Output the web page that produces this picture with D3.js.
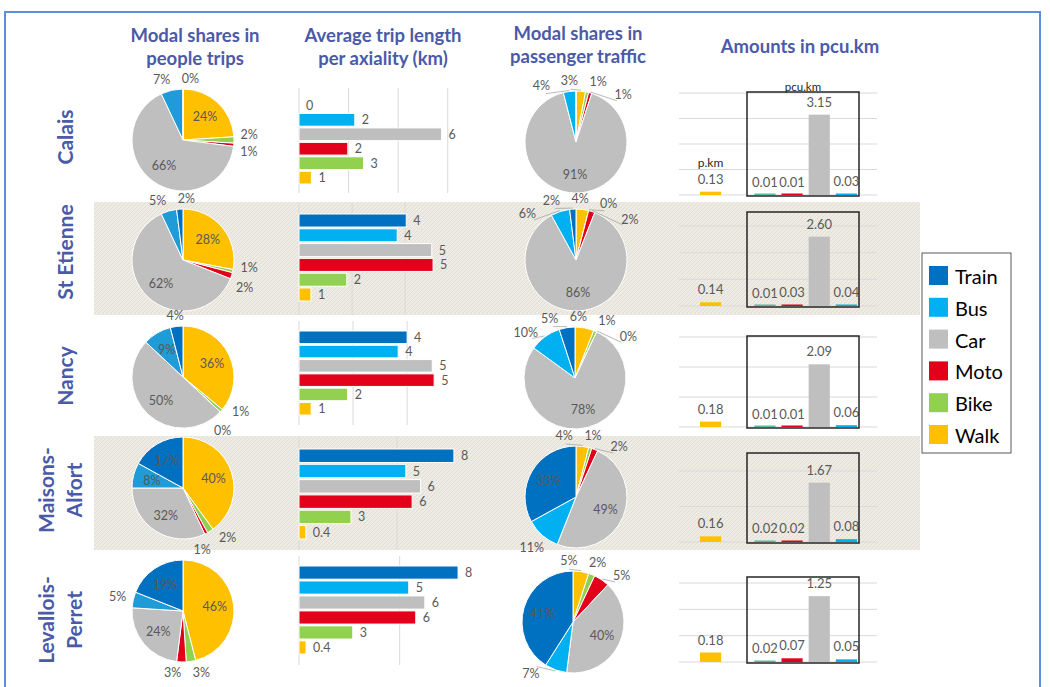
<!DOCTYPE html>
<html>
<head>
<meta charset="utf-8">
<script src="https://cdn.jsdelivr.net/npm/d3@7"></script>
<style>
  body { margin: 0; background: #fff; }
  svg { display: block; font-family: Lato, "Open Sans", sans-serif; }
</style>
</head>
<body>
<svg id="chart" width="1050" height="687"></svg>
<script>
// ---- data ----
const cityLines = [["Calais"], ["St Etienne"], ["Nancy"], ["Maisons-", "Alfort"], ["Levallois-", "Perret"]];
const modes = ["Train", "Bus", "Car", "Moto", "Bike", "Walk"];

// modal shares in people trips (%), in the order of modes
const peopleShare = [
  [0, 7, 66, 1, 2, 24],
  [2, 5, 62, 2, 1, 28],
  [4, 9, 50, 0, 1, 36],
  [17, 8, 32, 1, 2, 40],
  [19, 5, 24, 3, 3, 46]
];

// modal shares in passenger traffic (%)
const trafficShare = [
  [null, 4, 91, 1, 1, 3],
  [2, 6, 86, 2, 0, 4],
  [5, 10, 78, 0, 1, 6],
  [33, 11, 49, 2, 1, 4],
  [41, 7, 40, 5, 2, 5]
];

// average trip length per axiality (km)
const tripLength = [
  [0, 2.25, 5.75, 1.97, 2.6, 0.5],
  [4.04, 3.7, 5.0, 5.05, 1.8, 0.45],
  [4.0, 3.67, 4.93, 5.0, 1.8, 0.45],
  [7.9, 5.45, 6.2, 5.77, 2.65, 0.35],
  [7.9, 5.45, 6.25, 5.8, 2.67, 0.35]
];
const tripLabel = [
  ["0", "2", "6", "2", "3", "1"],
  ["4", "4", "5", "5", "2", "1"],
  ["4", "4", "5", "5", "2", "1"],
  ["8", "5", "6", "6", "3", "0.4"],
  ["8", "5", "6", "6", "3", "0.4"]
];
const tripAxisMax = [6.05, 5.65, 5.55, 7.65, 7.45];
const tripTickStep = [2, 2, 2, 5, 5];

// amounts: walk in p.km, the others in pcu.km
const pcuWalk = [0.13, 0.14, 0.18, 0.16, 0.18];
const pcuBike = [0.01, 0.01, 0.01, 0.02, 0.02];
const pcuMoto = [0.01, 0.03, 0.01, 0.02, 0.07];
const pcuCar = [3.15, 2.60, 2.09, 1.67, 1.25];
const pcuBus = [0.03, 0.04, 0.06, 0.08, 0.05];
const pcuAxisMax = [4, 3, 3, 2, 1.5];
const pcuTickStep = [1, 1, 1, 1, 0.5];

// ---- styles / layout ----
const modeColors = ["#0070c0", "#00b0f0", "#bfbfbf", "#e3001b", "#92d050", "#ffc000"];
const peopleColors = ["#0070c0", "#1f9bd7", "#bfbfbf", "#e3001b", "#92d050", "#ffc000"];
const pcuColors = ["#ffc000", "#5cb89c", "#e3001b", "#bfbfbf", "#00b0f0"];
const titleBlue = "#4b5aa8";
const labelGrey = "#595959";

const rowLabelY = [137, 252, 376, 490, 620];
const pie1Centers = [[183, 140], [183, 260], [183, 377], [183, 488], [183, 611]];
const pie3Centers = [[576, 142], [576, 260], [575, 378], [576, 497], [573, 622]];
const pieR = 51;
const tripBand = [[99, 184], [214, 301], [331, 415], [449, 539], [566, 654]];
const tripGrid = [[88, 193], [203, 315], [321, 425], [436, 550], [556, 665]];
const pcuBase = [195, 306, 427, 542, 662];
const pcuTop = [93, 226, 337, 471, 583];
const pcuBoxTop = [92, 212, 336, 453, 577];
const shadedRows = [[202, 315], [436, 550]];
const labelFloor = 674;
const TAU = 2 * Math.PI;

const svg = d3.select("#chart");

// hatched beige background for every other row
const defs = svg.append("defs");
const pat = defs.append("pattern").attr("id", "hatch")
  .attr("patternUnits", "userSpaceOnUse").attr("width", 4).attr("height", 4);
pat.append("rect").attr("width", 4).attr("height", 4).attr("fill", "#edebe3");
pat.append("path").attr("d", "M-1,1 l2,-2 M0,4 l4,-4 M3,5 l2,-2")
  .attr("stroke", "#e1ded4").attr("stroke-width", 1);

svg.append("rect").attr("x", 5).attr("y", 12).attr("width", 1035).attr("height", 700)
  .attr("fill", "none").attr("stroke", "#5b8fd9").attr("stroke-width", 2);

svg.selectAll("rect.band").data(shadedRows).join("rect").attr("class", "band")
  .attr("x", 94).attr("width", 826)
  .attr("y", d => d[0]).attr("height", d => d[1] - d[0])
  .attr("fill", "url(#hatch)");

// column headers
const headers = [
  { x: 195, lines: ["Modal shares in", "people trips"], y: 42 },
  { x: 383, lines: ["Average trip length", "per axiality (km)"], y: 42 },
  { x: 578, lines: ["Modal shares in", "passenger traffic"], y: 40 },
  { x: 800, lines: ["Amounts in pcu.km"], y: 53 }
];
headers.forEach(h => {
  const t = svg.append("text").attr("x", h.x).attr("y", h.y)
    .attr("text-anchor", "middle").attr("fill", titleBlue)
    .attr("font-size", 18.5).attr("font-weight", 700);
  h.lines.forEach((l, i) => t.append("tspan").attr("x", h.x).attr("dy", i ? 23 : 0).text(l));
});

// row labels, rotated
cityLines.forEach((lines, i) => {
  const xs = lines.length === 1 ? [64] : [45, 73];
  lines.forEach((l, j) => {
    svg.append("text")
      .attr("transform", `translate(${xs[j]},${rowLabelY[i]}) rotate(-90)`)
      .attr("text-anchor", "middle").attr("dominant-baseline", "central")
      .attr("fill", titleBlue).attr("font-size", 21).attr("font-weight", 700)
      .text(l);
  });
});

function normAngle(a) {
  while (a > Math.PI) a -= TAU;
  while (a <= -Math.PI) a += TAU;
  return a;
}

function drawPie(center, values, colors, insideMin) {
  const g = svg.append("g").attr("transform", `translate(${center[0]},${center[1]})`);
  const items = modes.map((m, i) => ({ mode: m, v: values[i], color: colors[i] })).reverse();
  const arcs = d3.pie().sort(null).value(d => d.v || 0)(items);
  const arc = d3.arc().innerRadius(0).outerRadius(pieR);
  const inner = d3.arc().innerRadius(pieR * 0.63).outerRadius(pieR * 0.63);

  g.selectAll("path").data(arcs).join("path")
    .attr("d", arc).attr("fill", d => d.data.color)
    .attr("stroke", "#fff").attr("stroke-width", 1);

  const inside = arcs.filter(d => d.data.v != null && d.data.v >= insideMin);
  g.selectAll("text.in").data(inside).join("text").attr("class", "in")
    .attr("transform", d => `translate(${inner.centroid(d)})`)
    .attr("text-anchor", "middle").attr("dominant-baseline", "central")
    .attr("font-size", 12.5).attr("fill", labelGrey)
    .text(d => d.data.v + "%");

  // outside labels, spread along the rim so they do not collide
  const outside = arcs.filter(d => d.data.v != null && d.data.v < insideMin)
    .map(d => {
      const mid = ((d.startAngle + d.endAngle) / 2) % TAU;
      return { d, mid, a: mid };
    })
    .sort((p, q) => p.mid - q.mid);
  // cut the circle at the widest empty gap so neighbours stay neighbours
  let cut = 0, widest = -1;
  outside.forEach((o, k) => {
    const next = outside[(k + 1) % outside.length];
    let gap = next.mid - o.mid;
    if (gap <= 0) gap += TAU;
    if (gap > widest) { widest = gap; cut = next.mid; }
  });
  outside.forEach(o => { o.a = ((o.mid - cut) % TAU + TAU) % TAU; });
  outside.sort((p, q) => p.a - q.a);

  const R = pieR + 12;
  const distOf = a => pieR + 4 + Math.abs(Math.sin(a)) * 11 + Math.abs(Math.cos(a)) * 6;
  for (let it = 0; it < 80; it++) {
    for (let k = 0; k < outside.length - 1; k++) {
      const p = outside[k], q = outside[k + 1];
      const am = (p.a + q.a) / 2 + cut;
      const need = (15 + 14 * Math.abs(Math.cos(am))) / R;
      const gap = q.a - p.a;
      if (gap < need) {
        p.a -= (need - gap) / 2;
        q.a += (need - gap) / 2;
      }
    }
    // keep labels inside the frame at the bottom of the page
    outside.forEach(o => {
      let abs = normAngle(o.a + cut);
      while (center[1] - Math.cos(abs) * distOf(abs) > labelFloor) {
        const step = Math.sign(abs) * 0.02;
        o.a -= step;
        abs -= step;
      }
    });
  }
  outside.forEach(o => {
    const a = o.a + cut;
    const ux = Math.sin(a), uy = -Math.cos(a);
    const dist = distOf(a);
    o.x = ux * dist;
    o.y = uy * dist;
    if (Math.abs(normAngle(a - o.mid)) > 0.18) {
      const sx = Math.sin(o.mid) * (pieR + 1), sy = -Math.cos(o.mid) * (pieR + 1);
      const ex = ux * (dist - 9), ey = uy * (dist - 9);
      g.append("line").attr("x1", sx).attr("y1", sy).attr("x2", ex).attr("y2", ey)
        .attr("stroke", "#a6a6a6").attr("stroke-width", 0.8);
    }
  });
  g.selectAll("text.out").data(outside).join("text").attr("class", "out")
    .attr("x", o => o.x).attr("y", o => o.y)
    .attr("text-anchor", "middle").attr("dominant-baseline", "central")
    .attr("font-size", 12.5).attr("fill", labelGrey)
    .text(o => o.d.data.v + "%");
}

function drawTrip(i) {
  const x = d3.scaleLinear().domain([0, tripAxisMax[i]]).range([299, 449]);
  const y = d3.scaleBand().domain(modes).range(tripBand[i]).paddingInner(0.12);
  const g = svg.append("g");
  const ticks = d3.range(0, tripAxisMax[i] + 1e-9, tripTickStep[i]);
  g.selectAll("line.grid").data(ticks).join("line").attr("class", "grid")
    .attr("x1", d => x(d)).attr("x2", d => x(d))
    .attr("y1", tripGrid[i][0]).attr("y2", tripGrid[i][1])
    .attr("stroke", "#d9d9d9").attr("stroke-width", 1);
  const rows = modes.map((m, k) => ({ m, v: tripLength[i][k], label: tripLabel[i][k], color: modeColors[k] }));
  g.selectAll("rect").data(rows.filter(r => r.v > 0)).join("rect")
    .attr("x", x(0)).attr("y", r => y(r.m))
    .attr("width", r => x(r.v) - x(0)).attr("height", y.bandwidth())
    .attr("fill", r => r.color).attr("stroke", "#fff").attr("stroke-width", 1);
  g.selectAll("text").data(rows).join("text")
    .attr("x", r => x(r.v) + 7).attr("y", r => y(r.m) + y.bandwidth() / 2)
    .attr("dominant-baseline", "central")
    .attr("font-size", 12.5).attr("fill", labelGrey)
    .text(r => r.label);
}

function drawPcu(i) {
  const slots = [0, 2, 3, 4, 5];
  const vals = [pcuWalk[i], pcuBike[i], pcuMoto[i], pcuCar[i], pcuBus[i]];
  const x = d3.scaleBand().domain(d3.range(6)).range([700, 857]).paddingInner(0.22);
  const y = d3.scaleLinear().domain([0, pcuAxisMax[i]]).range([pcuBase[i], pcuTop[i]]);
  const g = svg.append("g");
  const ticks = d3.range(0, pcuAxisMax[i] + 1e-9, pcuTickStep[i]);
  g.selectAll("line").data(ticks).join("line")
    .attr("x1", 679).attr("x2", 877)
    .attr("y1", d => y(d)).attr("y2", d => y(d))
    .attr("stroke", "#d9d9d9").attr("stroke-width", 1);
  const bars = vals.map((v, k) => ({ v, slot: slots[k], color: pcuColors[k] }));
  g.selectAll("rect").data(bars).join("rect")
    .attr("x", b => x(b.slot)).attr("width", x.bandwidth())
    .attr("y", b => Math.min(y(b.v), y(0) - 1.5))
    .attr("height", b => Math.max(y(0) - y(b.v), 1.5))
    .attr("fill", b => b.color);
  g.selectAll("text").data(bars).join("text")
    .attr("x", b => x(b.slot) + x.bandwidth() / 2)
    .attr("y", b => y(b.v) - 8)
    .attr("text-anchor", "middle")
    .attr("font-size", 13).attr("fill", labelGrey)
    .text(b => d3.format(".2f")(b.v));
  g.append("rect").attr("x", 747).attr("y", pcuBoxTop[i])
    .attr("width", 112).attr("height", pcuBase[i] + 1 - pcuBoxTop[i])
    .attr("fill", "none").attr("stroke", "#262626").attr("stroke-width", 1.5);
  if (i === 0) {
    g.append("text").attr("x", x(0) + x.bandwidth() / 2).attr("y", y(pcuWalk[i]) - 25)
      .attr("text-anchor", "middle").attr("font-size", 12).attr("fill", "#262626").text("p.km");
    g.append("text").attr("x", 803).attr("y", pcuBoxTop[i] - 1)
      .attr("text-anchor", "middle").attr("font-size", 11.5).attr("fill", "#262626").text("pcu.km");
  }
}

for (let i = 0; i < 5; i++) {
  drawPie(pie1Centers[i], peopleShare[i], peopleColors, 8);
  drawTrip(i);
  drawPie(pie3Centers[i], trafficShare[i], modeColors, 20);
  drawPcu(i);
}

// legend
const legend = svg.append("g");
legend.append("rect").attr("x", 922).attr("y", 253).attr("width", 89).attr("height", 200)
  .attr("fill", "#fff").attr("stroke", "#595959").attr("stroke-width", 1);
const ly = d3.scalePoint().domain(modes).range([275, 434]);
legend.selectAll("rect.sw").data(modes).join("rect").attr("class", "sw")
  .attr("x", 929).attr("y", m => ly(m) - 9).attr("width", 19).attr("height", 19)
  .attr("fill", (m, k) => modeColors[k]);
legend.selectAll("text").data(modes).join("text")
  .attr("x", 955).attr("y", m => ly(m) + 1)
  .attr("dominant-baseline", "central")
  .attr("font-size", 20).attr("fill", "#000")
  .text(m => m);
</script>
</body>
</html>
